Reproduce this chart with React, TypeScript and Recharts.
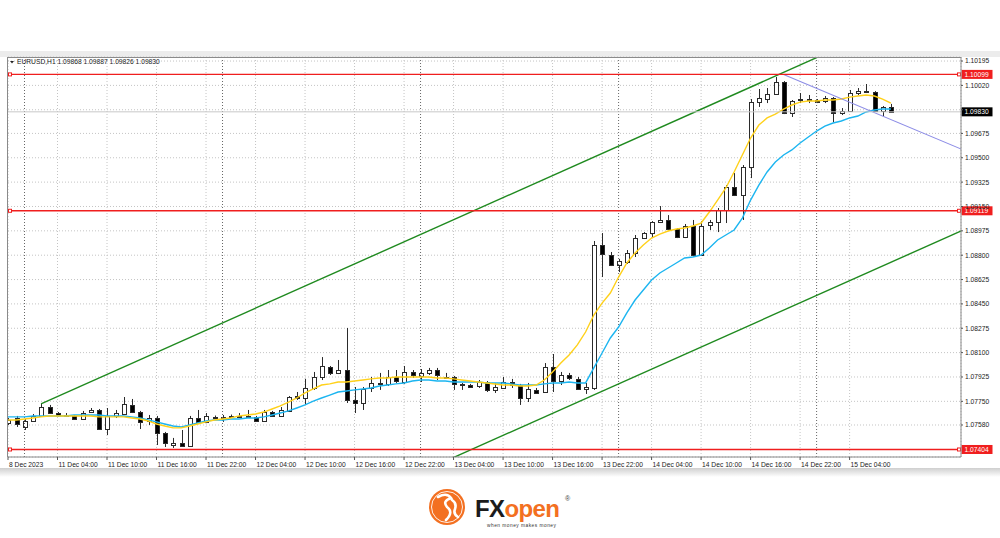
import React from "react";
import { ComposedChart, Bar, Line, XAxis, YAxis, CartesianGrid, ReferenceLine } from "recharts";

// EURUSD H1, 8 Dec 22:00 .. 15 Dec 09:00 (bar index 0..107)
const opens = [
  1.07594, 1.0763, 1.07566, 1.07609, 1.07645, 1.07709, 1.07666, 1.07652, 1.07645, 1.07623,
  1.07673, 1.07688, 1.07551, 1.07645, 1.07659, 1.07724, 1.07673, 1.07609, 1.0763, 1.07523,
  1.07436, 1.07451, 1.07429, 1.0763, 1.07602, 1.0764, 1.07638, 1.07638, 1.07645, 1.07648,
  1.07638, 1.07609, 1.07673, 1.07645, 1.07681, 1.07788, 1.07774, 1.07846, 1.07925, 1.07997,
  1.07954, 1.07975, 1.0776, 1.07738, 1.07846, 1.07882, 1.07875, 1.07925, 1.07889, 1.07961,
  1.07932, 1.07954, 1.07975, 1.07925, 1.07925, 1.07875, 1.07867, 1.0786, 1.07889, 1.07832,
  1.07846, 1.07889, 1.07867, 1.07774, 1.07832, 1.07817, 1.07997, 1.07896, 1.07939, 1.07911,
  1.07839, 1.07846, 1.08873, 1.08801, 1.08729, 1.08751, 1.08816, 1.08923, 1.08959, 1.09038,
  1.09053, 1.08988, 1.08931, 1.0901, 1.08801, 1.09017, 1.09038, 1.09124, 1.0929, 1.09232,
  1.09434, 1.099, 1.09922, 1.09958, 1.10044, 1.09821, 1.09918, 1.09922, 1.09915, 1.09908,
  1.09929, 1.09821, 1.09836, 1.09965, 1.09979, 1.09972, 1.09836, 1.09868,
];
const highs = [
  1.0763, 1.07645, 1.07623, 1.07659, 1.07731, 1.07724, 1.07673, 1.07666, 1.07652, 1.07681,
  1.07702, 1.07695, 1.07702, 1.07688, 1.07781, 1.07767, 1.07681, 1.07652, 1.07645, 1.0753,
  1.07487, 1.07544, 1.07645, 1.07688, 1.07666, 1.07648, 1.07652, 1.07655, 1.07666, 1.07688,
  1.07645, 1.07688, 1.07681, 1.07709, 1.07788, 1.07817, 1.07911, 1.07961, 1.08068, 1.08004,
  1.08047, 1.08277, 1.07853, 1.07853, 1.07925, 1.07954, 1.07975, 1.07975, 1.08004, 1.07975,
  1.07982, 1.0799, 1.0799, 1.07954, 1.07932, 1.07882, 1.07875, 1.07903, 1.07896, 1.07882,
  1.07925, 1.07911, 1.07875, 1.07882, 1.07846, 1.08025, 1.0809, 1.07961, 1.07954, 1.07925,
  1.07882, 1.08902, 1.08959, 1.08823, 1.08773, 1.08837, 1.08945, 1.08966, 1.09045, 1.09153,
  1.09088, 1.08995, 1.09024, 1.09053, 1.09045, 1.09053, 1.09139, 1.09304, 1.0939, 1.09448,
  1.09922, 1.09994, 1.10001, 1.1008, 1.10051, 1.09915, 1.09965, 1.09951, 1.09922, 1.09944,
  1.09936, 1.09857, 1.09987, 1.10001, 1.1003, 1.09979, 1.09872, 1.09887,
];
const lows = [
  1.0758, 1.07566, 1.07544, 1.07602, 1.07638, 1.07659, 1.07638, 1.07638, 1.07616, 1.07616,
  1.07666, 1.07544, 1.07508, 1.0763, 1.07652, 1.07666, 1.07551, 1.0758, 1.07436, 1.07422,
  1.07415, 1.07422, 1.07422, 1.07594, 1.07594, 1.0763, 1.07602, 1.0763, 1.07638, 1.07638,
  1.07602, 1.07602, 1.07638, 1.07638, 1.07673, 1.0776, 1.07724, 1.07832, 1.07903, 1.07939,
  1.07946, 1.07738, 1.07666, 1.07688, 1.07817, 1.07832, 1.0786, 1.07882, 1.07875, 1.07918,
  1.07889, 1.07939, 1.07903, 1.07911, 1.07832, 1.07832, 1.07846, 1.07846, 1.07817, 1.0781,
  1.07839, 1.07846, 1.07724, 1.07745, 1.07803, 1.0781, 1.07817, 1.07867, 1.07903, 1.07832,
  1.07803, 1.07832, 1.08643, 1.08722, 1.08679, 1.08737, 1.08787, 1.08916, 1.08923, 1.09031,
  1.08981, 1.08923, 1.08923, 1.08794, 1.08794, 1.08981, 1.08966, 1.09031, 1.09225, 1.09053,
  1.09354, 1.09865, 1.09893, 1.09951, 1.09814, 1.09793, 1.09893, 1.09893, 1.09893, 1.09893,
  1.09757, 1.09807, 1.09829, 1.09951, 1.09965, 1.09829, 1.098, 1.09826,
];
const closes = [
  1.07616, 1.07587, 1.07609, 1.07645, 1.07709, 1.07666, 1.07652, 1.07655, 1.07623, 1.07666,
  1.07688, 1.07551, 1.07645, 1.07666, 1.07731, 1.07673, 1.07602, 1.0763, 1.07523, 1.07451,
  1.07451, 1.07429, 1.0763, 1.07602, 1.07645, 1.07638, 1.0764, 1.07645, 1.07648, 1.07645,
  1.07609, 1.07673, 1.07645, 1.07688, 1.07781, 1.07774, 1.07846, 1.07925, 1.08004, 1.07954,
  1.07975, 1.0776, 1.07738, 1.07839, 1.07882, 1.07875, 1.07925, 1.07896, 1.07961, 1.07939,
  1.07954, 1.07975, 1.07939, 1.07928, 1.07875, 1.07872, 1.07853, 1.07889, 1.07832, 1.07853,
  1.07889, 1.07867, 1.07774, 1.07839, 1.0781, 1.07997, 1.07896, 1.07939, 1.07918, 1.07839,
  1.07853, 1.08873, 1.08808, 1.08729, 1.08758, 1.08816, 1.08923, 1.08959, 1.09038, 1.09053,
  1.08988, 1.08931, 1.0901, 1.08801, 1.0901, 1.09038, 1.09124, 1.0929, 1.09232, 1.09434,
  1.099, 1.09929, 1.09958, 1.10044, 1.09821, 1.09908, 1.09922, 1.09915, 1.099, 1.09929,
  1.09821, 1.09836, 1.09965, 1.09979, 1.09972, 1.09836, 1.09865, 1.0983,
];
// moving averages as drawn on the chart (yellow = fast, blue = slow)
const fastMa = [
  1.07616, 1.07616, 1.07623, 1.0763, 1.07638, 1.07645, 1.07645, 1.07645, 1.07645, 1.07645,
  1.07645, 1.07638, 1.07638, 1.07638, 1.07638, 1.0763, 1.07623, 1.07609, 1.07587, 1.07573,
  1.07559, 1.07559, 1.07573, 1.07587, 1.07602, 1.07616, 1.07623, 1.0763, 1.07645, 1.07652,
  1.07659, 1.07673, 1.07695, 1.07717, 1.07745, 1.07774, 1.0781, 1.07839, 1.07867, 1.07875,
  1.07889, 1.07889, 1.07896, 1.07903, 1.07911, 1.07918, 1.07918, 1.07925, 1.07925, 1.07925,
  1.07925, 1.07925, 1.07918, 1.07918, 1.07911, 1.07903, 1.07896, 1.07889, 1.07882, 1.07875,
  1.07867, 1.07867, 1.0786, 1.0786, 1.07867, 1.07903, 1.07961, 1.08025, 1.08083, 1.08155,
  1.08248, 1.0837, 1.08456, 1.08528, 1.08643, 1.08744, 1.08816, 1.08873, 1.08923, 1.08952,
  1.08974, 1.08988, 1.08995, 1.0901, 1.09031, 1.0911, 1.09196, 1.09283, 1.09398, 1.0952,
  1.09642, 1.09735, 1.09786, 1.09814, 1.0985, 1.09879, 1.099, 1.09908, 1.09908, 1.09915,
  1.09915, 1.09922, 1.09936, 1.09944, 1.09951, 1.09944, 1.09922, 1.09893,
];
const slowMa = [
  1.07638, 1.07638, 1.07638, 1.07645, 1.07645, 1.07645, 1.07645, 1.07645, 1.07652, 1.07652,
  1.07652, 1.07652, 1.07645, 1.07645, 1.07645, 1.07638, 1.0763, 1.07616, 1.07602, 1.07587,
  1.07573, 1.07566, 1.0758, 1.07594, 1.07609, 1.07616, 1.07616, 1.07623, 1.07623, 1.0763,
  1.0763, 1.07638, 1.07652, 1.07666, 1.07681, 1.07702, 1.07724, 1.07752, 1.07774, 1.07795,
  1.07817, 1.07824, 1.07832, 1.07839, 1.07846, 1.0786, 1.07867, 1.07875, 1.07882, 1.07896,
  1.07903, 1.07903, 1.07896, 1.07896, 1.07889, 1.07889, 1.07889, 1.07889, 1.07882, 1.07882,
  1.07882, 1.07875, 1.07867, 1.07867, 1.07867, 1.07875, 1.07882, 1.07882, 1.07889, 1.07882,
  1.07882, 1.0799, 1.08097, 1.08205, 1.08284, 1.08385, 1.08478, 1.0855, 1.08622, 1.08672,
  1.08708, 1.08744, 1.0878, 1.08787, 1.08801, 1.08852, 1.08909, 1.08945, 1.08981, 1.09067,
  1.09196, 1.09304, 1.09398, 1.09469, 1.0952, 1.09556, 1.09606, 1.09649, 1.09692, 1.09728,
  1.0975, 1.09764, 1.09786, 1.098, 1.09829, 1.09843, 1.0985, 1.0985,
];

const timeTicks = [0, 6, 12, 18, 24, 30, 36, 42, 48, 54, 60, 66, 72, 78, 84, 90, 96, 102];
const timeLabels = [
  "8 Dec 2023", "11 Dec 04:00", "11 Dec 10:00", "11 Dec 16:00", "11 Dec 22:00",
  "12 Dec 04:00", "12 Dec 10:00", "12 Dec 16:00", "12 Dec 22:00", "13 Dec 04:00",
  "13 Dec 10:00", "13 Dec 16:00", "13 Dec 22:00", "14 Dec 04:00", "14 Dec 10:00",
  "14 Dec 16:00", "14 Dec 22:00", "15 Dec 04:00",
];
const daySeparators = [2, 26, 50, 74, 98];
const priceTicks = [
  1.10195, 1.1002, 1.09845, 1.09675, 1.095, 1.09325, 1.0915, 1.08975,
  1.088, 1.08625, 1.0845, 1.08275, 1.081, 1.07925, 1.0775, 1.0758,
];
const levels = [1.10099, 1.09119, 1.07404];
const lastPrice = 1.0983;
const upperChannel = [{ x: 4, y: 1.07731 }, { x: 120, y: 1.10802 }];
const lowerChannel = [{ x: 40, y: 1.06976 }, { x: 120, y: 1.09093 }];
const downTrend = [{ x: 94, y: 1.10099 }, { x: 120, y: 1.09451 }];

const data = opens.map((o, i) => ({
  i,
  o,
  h: highs[i],
  l: lows[i],
  c: closes[i],
  range: [lows[i], highs[i]],
  fast: fastMa[i],
  slow: slowMa[i],
}));

const FONT = "'Liberation Sans', Arial, sans-serif";

function Candle(props: any) {
  const { x, y, width, height, payload } = props;
  if (x == null || !payload) return <g />;
  const { o, h, l, c } = payload;
  const top = Math.min(y, y + height);
  const full = Math.abs(height);
  const k = full / (h - l);
  const cx = Math.round(x + width / 2) + 0.5;
  const bTop = Math.round(top + (h - Math.max(o, c)) * k) + 0.5;
  const bBot = Math.round(top + (h - Math.min(o, c)) * k) + 0.5;
  const up = c >= o;
  return (
    <g>
      <line x1={cx} x2={cx} y1={top} y2={top + full} stroke="#2b2b2b" strokeWidth={1} />
      <rect
        x={cx - 2}
        y={bTop}
        width={4}
        height={Math.max(bBot - bTop, 1)}
        fill={up ? "#fff" : "#000"}
        stroke="#2b2b2b"
        strokeWidth={1}
      />
    </g>
  );
}

function TimeTick(props: any) {
  const { x, y, payload } = props;
  const idx = timeTicks.indexOf(payload.value);
  return (
    <g>
      <line x1={x} x2={x} y1={y} y2={y + 3} stroke="#555" />
      <text x={x + 1} y={y + 10} fontSize={6.7} fill="#222" fontFamily={FONT} textAnchor="start">
        {timeLabels[idx]}
      </text>
    </g>
  );
}

function PriceTick(props: any) {
  const { x, y, payload } = props;
  if (payload.value === 1.09845) return <g />;
  return (
    <text x={x} y={y + 2.4} fontSize={6.7} fill="#222" fontFamily={FONT} textAnchor="start">
      {payload.value.toFixed(5)}
    </text>
  );
}

function PriceTag(props: any) {
  const { viewBox, text, bg, ends } = props;
  if (!viewBox) return <g />;
  const x = viewBox.x + viewBox.width;
  const y = viewBox.y;
  return (
    <g>
      {ends && <rect x={viewBox.x + 0.5} y={y - 1.5} width={3} height={3} fill="#fff" stroke={bg} strokeWidth={1} />}
      {ends && <rect x={x - 3.5} y={y - 1.5} width={3} height={3} fill="#fff" stroke={bg} strokeWidth={1} />}
      <rect x={x + 0.5} y={y - 4.5} width={31} height={9} fill={bg} />
      <text x={x + 3.5} y={y + 2.4} fontSize={6.7} fill="#fff" fontFamily={FONT}>
        {text}
      </text>
    </g>
  );
}

export default function App() {
  return (
    <div style={{ position: "absolute", left: 0, top: 0, width: 1000, height: 538, background: "#fff", overflow: "hidden" }}>
      <div style={{ position: "absolute", left: 0, top: 51, width: 1000, height: 6, background: "#ececec" }} />
      <div
        style={{
          position: "absolute",
          left: 0,
          top: 468,
          width: 1000,
          height: 9,
          background: "linear-gradient(#cfcfcf, rgba(255,255,255,0))",
        }}
      />
      <div style={{ position: "absolute", left: 0, top: 0 }}>
        <ComposedChart width={1000} height={538} data={data} margin={{ top: 57, right: 0, left: 8, bottom: 65 }}>
          <CartesianGrid stroke="#c4c4c4" strokeDasharray="1 2" />
          {daySeparators.map((d) => (
            <ReferenceLine key={d} x={d} stroke="#666" strokeDasharray="1 2" />
          ))}
          <XAxis
            dataKey="i"
            type="number"
            domain={[0, 115.5]}
            allowDataOverflow
            ticks={timeTicks}
            interval={0}
            tickSize={0}
            tickMargin={0}
            height={16}
            axisLine={{ stroke: "#8a8a8a" }}
            tick={<TimeTick />}
          />
          <YAxis
            orientation="right"
            type="number"
            domain={[1.0735, 1.10224]}
            allowDataOverflow
            ticks={priceTicks}
            interval={0}
            width={39}
            tickSize={2}
            tickMargin={2}
            axisLine={{ stroke: "#8a8a8a" }}
            tickLine={{ stroke: "#555" }}
            tick={<PriceTick />}
          />
          <Bar dataKey="range" barSize={5} shape={<Candle />} isAnimationActive={false} />
          <Line type="linear" dataKey="slow" stroke="#1cb5f0" strokeWidth={1.4} dot={false} isAnimationActive={false} />
          <Line type="linear" dataKey="fast" stroke="#ffd11a" strokeWidth={1.4} dot={false} isAnimationActive={false} />
          <ReferenceLine segment={upperChannel} stroke="#1f8a1f" strokeWidth={1.4} ifOverflow="hidden" />
          <ReferenceLine segment={lowerChannel} stroke="#1f8a1f" strokeWidth={1.4} ifOverflow="hidden" />
          <ReferenceLine segment={downTrend} stroke="#8c8ce6" strokeWidth={1.1} ifOverflow="hidden" />
          <ReferenceLine y={lastPrice} stroke="#c8c8c8" label={<PriceTag text={lastPrice.toFixed(5)} bg="#000" />} />
          {levels.map((v) => (
            <ReferenceLine
              key={v}
              y={v}
              stroke="#f01e1e"
              strokeWidth={1.4}
              label={<PriceTag text={v.toFixed(5)} bg="#f01e1e" ends />}
            />
          ))}
        </ComposedChart>
      </div>
      <svg width={1000} height={538} style={{ position: "absolute", left: 0, top: 0, pointerEvents: "none" }}>
        <line x1={7.5} x2={7.5} y1={57} y2={457} stroke="#8a8a8a" />
        <line x1={7.5} x2={961} y1={57.5} y2={57.5} stroke="#8a8a8a" />
        <polygon points="10,61 14,61 12,63.5" fill="#222" />
        <text x={17} y={64} fontSize={6.7} fill="#222" fontFamily={FONT}>
          EURUSD,H1  1.09868 1.09887 1.09826 1.09830
        </text>
        <g>
          <circle cx={447} cy={507} r={18} fill="#f37021" />
          <circle cx={447} cy={507} r={15.5} fill="none" stroke="#fff" strokeWidth={0.9} />
          <path
            d="M438 497 q9 -5 13 1 q-9 3 -4 9 q7 5 -1 13 M452 500 q5 3 3 9 q-2 5 3 8"
            fill="none"
            stroke="#fff"
            strokeWidth={2.6}
            strokeLinecap="round"
          />
          <text x={475} y={517} fontSize={24} fontWeight="bold" fill="#1b1b1b" fontFamily={FONT} letterSpacing={-0.6}>
            FX<tspan fill="#f37021">open</tspan>
          </text>
          <text x={565} y={501} fontSize={7} fill="#444" fontFamily={FONT}>
            ®
          </text>
          <text x={487} y={526.5} fontSize={4.8} fill="#333" fontFamily={FONT} letterSpacing={0.5}>
            when money makes money
          </text>
        </g>
      </svg>
    </div>
  );
}
